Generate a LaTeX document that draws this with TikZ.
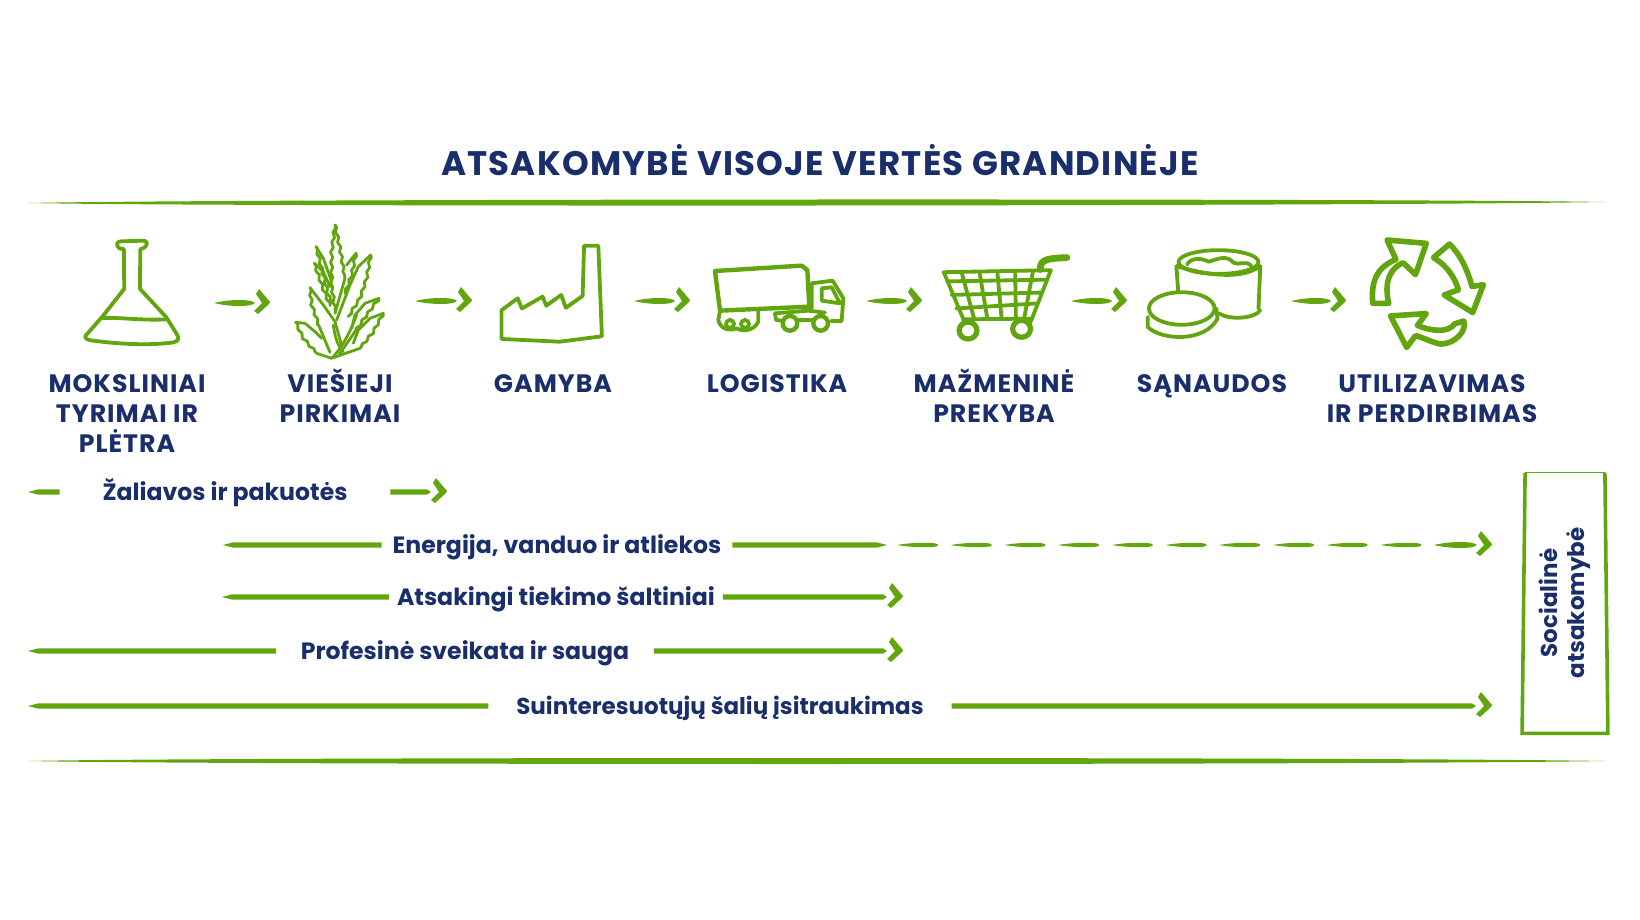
\documentclass[tikz,border=0pt]{standalone}
\usepackage{fontspec}
\setmainfont{Poppins}
\usetikzlibrary{calc,decorations.pathmorphing}
\definecolor{leaf}{HTML}{62A60F}
\definecolor{navy}{HTML}{1A2E6C}
\tikzset{
  sketch/.style={draw=leaf, line width=1.9pt, line cap=round, line join=round},
  fine/.style={draw=leaf, line width=1.4pt, line cap=round, line join=round},
  spiky/.style={fine, decorate, decoration={zigzag, amplitude=.55pt, segment length=5pt}},
  boxline/.style={draw=leaf, line width=1.8pt},
  brushrule/.style={to path={(\tikztostart)
    .. controls ($(\tikztostart)!.12!(\tikztotarget)+(0,-4)$) and ($(\tikztostart)!.85!(\tikztotarget)+(0,-4)$) .. (\tikztotarget)
    .. controls ($(\tikztostart)!.85!(\tikztotarget)+(0,4)$) and ($(\tikztostart)!.12!(\tikztotarget)+(0,4)$) .. (\tikztostart) -- cycle}},
  brush/.style={to path={(\tikztostart)
    .. controls ($(\tikztostart)!.4!(\tikztotarget)+(0,-#1)$) and ($(\tikztostart)!1.05!(\tikztotarget)+(0,-#1)$) .. (\tikztotarget)
    .. controls ($(\tikztostart)!1.05!(\tikztotarget)+(0,#1)$) and ($(\tikztostart)!.4!(\tikztotarget)+(0,#1)$) .. (\tikztostart) -- cycle}},
  steparrow/.style={to path={(\tikztostart)
    .. controls ($(\tikztostart)+(16,-4)$) and ($(\tikztotarget)+(-18,-4)$) .. ($(\tikztotarget)+(-15,0)$)
    .. controls ($(\tikztotarget)+(-18,4)$) and ($(\tikztostart)+(16,4)$) .. (\tikztostart) -- cycle
    ($(\tikztotarget)+(-11,-14)$) -- ($(\tikztotarget)+(0,-1)$) -- ($(\tikztotarget)+(-1,1)$) -- ($(\tikztotarget)+(-12,11)$) -- ($(\tikztotarget)+(-16,8)$) -- ($(\tikztotarget)+(-8,0)$) -- ($(\tikztotarget)+(-14,-9)$) -- cycle}},
  rowtail/.style={to path={(\tikztostart) -- ($(\tikztostart)!5pt!(\tikztotarget)+(0,-2.6)$) -- ($(\tikztotarget)+(0,-2.6)$)
    -- ($(\tikztotarget)+(0,2.6)$) -- ($(\tikztostart)!5pt!(\tikztotarget)+(0,2.6)$) -- cycle}},
  rowhead/.style={to path={($(\tikztostart)+(0,-2.6)$) -- ($(\tikztotarget)+(-20,-2.6)$) -- ($(\tikztotarget)+(-16,0)$)
    -- ($(\tikztotarget)+(-20,2.6)$) -- ($(\tikztostart)+(0,2.6)$) -- cycle
    ($(\tikztotarget)+(-11,-14)$) -- ($(\tikztotarget)+(0,-1)$) -- ($(\tikztotarget)+(-1,1)$) -- ($(\tikztotarget)+(-12,11)$) -- ($(\tikztotarget)+(-16,8)$) -- ($(\tikztotarget)+(-8,0)$) -- ($(\tikztotarget)+(-14,-9)$) -- cycle}},
  steplabel/.style={anchor=base, align=center,
    font=\bfseries\fontsize{12.6}{15}\selectfont\addfontfeature{LetterSpace=4}},
  rowlabel/.style={font=\bfseries\fontsize{11.8}{14}\selectfont, text height=10pt, text depth=2pt, inner xsep=0pt}
}
\begin{document}
\begin{tikzpicture}[x=.5pt, y=-.5pt,
  every node/.style={text=navy, inner sep=0pt}]
\useasboundingbox (0,0) rectangle (1640,920);
\node[font=\bfseries\fontsize{17}{20}\selectfont\addfontfeature{LetterSpace=3.7}] (title) at (820,160) {ATSAKOMYBĖ VISOJE VERTĖS GRANDINĖJE};
\coordinate (topL) at (28,203);
\coordinate (topR) at (1605,202);
\coordinate (botL) at (28,761);
\coordinate (botR) at (1605,761);
\fill[leaf] (topL) to[brushrule] (topR);
\fill[leaf] (botL) to[brushrule] (botR);

\begin{scope}[shift={(0,200)}, xscale=.357, yscale=.339]
\draw[sketch] (347,145) .. controls (330,148) and (318,125) .. (338,122) -- (400,120) .. controls (418,120) and (415,140) .. (393,145)
  -- (392,262) -- (465,345) -- (495,395) .. controls (500,405) and (505,415) .. (485,420)
  .. controls (420,430) and (330,425) .. (255,414) .. controls (245,412) and (235,408) .. (240,400) -- (290,340) -- (348,262) -- cycle;
\draw[sketch] (288,348) .. controls (340,346) and (400,356) .. (465,352);
\draw[sketch] (1405,410) -- (1405,325) -- (1450,290) -- (1462,320) -- (1520,285) -- (1530,312) -- (1572,280) -- (1585,318) -- (1632,283) -- (1636,135) -- (1676,135) -- (1686,402) -- (1568,418) -- cycle;
\end{scope}

\begin{scope}[shift={(280,215)}, scale=.3333]
\draw[spiky] (165,30) -- (155,110) -- (155,210) -- (165,285);
\draw[spiky] (165,30) -- (180,100) -- (195,190);
\draw[fine] (195,190) -- (165,295);
\draw[spiky] (108,95) -- (125,160) -- (145,240) -- (155,265);
\draw[fine] (108,95) -- (130,130) -- (155,200);
\draw[spiky] (103,145) -- (125,210) -- (150,272);
\draw[fine] (103,145) -- (130,170) -- (150,215);
\draw[spiky] (228,115) -- (215,180) -- (195,235);
\draw[fine] (228,115) -- (200,150);
\draw[spiky] (272,120) -- (260,190) -- (240,250) -- (205,305);
\draw[fine] (272,120) -- (235,155) -- (210,210) -- (170,315);
\draw[spiky] (90,218) -- (95,270) -- (120,340);
\draw[fine] (120,340) -- (150,412);
\draw[fine] (90,218) -- (130,270) -- (165,320) -- (185,392);
\draw[spiky] (297,250) -- (260,300) -- (225,350);
\draw[fine] (225,350) -- (178,418);
\draw[fine] (297,250) -- (255,265) -- (225,300) -- (215,340);
\draw[spiky] (310,295) -- (280,350) -- (240,400);
\draw[fine] (240,400) -- (160,428);
\draw[fine] (310,295) -- (270,310) -- (235,345) -- (220,385);
\draw[spiky] (47,322) -- (70,370) -- (110,415);
\draw[fine] (110,415) -- (155,430);
\draw[fine] (47,322) -- (75,325) -- (105,350) -- (125,370);
\draw[fine] (155,430) .. controls (190,395) and (215,340) .. (230,300);
\draw[fine] (160,330) .. controls (165,370) and (175,395) .. (190,410);
\end{scope}

\begin{scope}[shift={(700,250)}, scale=.3333]
\draw[sketch, line width=2.2pt] (45,63) -- (305,47) -- (322,60) -- (328,170) -- (60,182) -- cycle;
\draw[sketch] (60,182) -- (55,210) .. controls (60,235) and (85,245) .. (110,235) .. controls (125,245) and (160,245) .. (175,215) -- (175,185);
\draw[sketch] (90,222) circle (12) (135,222) circle (12);
\draw[sketch] (335,175) -- (335,100) -- (398,92) -- (430,145) -- (425,213) -- (393,213);
\draw[sketch] (365,115) -- (395,112) -- (420,160) -- (365,152) -- cycle;
\draw[sketch] (225,190) -- (325,182) -- (375,188);
\draw[sketch] (225,190) -- (228,210) -- (245,212);
\draw[sketch] (295,210) -- (340,210);
\draw[sketch, line width=2.2pt] (270,220) circle (22) (362,220) circle (22);
\end{scope}

\begin{scope}[shift={(560,200)}, xscale=.357, yscale=.339]
\draw[sketch, line width=3.4pt] (1345,205) .. controls (1345,175) and (1365,172) .. (1420,170);
\draw[sketch] (1075,213) -- (1375,207) -- (1322,350) -- (1130,352) -- cycle;
\draw[sketch] (1125,213) -- (1160,350) (1175,212) -- (1197,350) (1225,211) -- (1237,350) (1275,210) -- (1277,350) (1325,209) -- (1300,350);
\draw[sketch] (1085,240) -- (1365,235) (1097,280) -- (1350,273) (1110,320) -- (1337,305);
\draw[sketch] (1130,352) -- (1130,365) (1322,350) -- (1315,365);
\draw[sketch, line width=2.6pt] (1143,385) circle (25) (1293,380) circle (25);
\end{scope}

\begin{scope}[shift={(1080,200)}, xscale=.357, yscale=.339]
\draw[sketch] (388,183) ellipse (112 and 35);
\draw[sketch] (300,190) .. controls (310,170) and (340,170) .. (360,182) .. controls (385,175) and (410,160) .. (430,185) .. controls (445,195) and (465,175) .. (480,195);
\draw[sketch] (270,195) .. controls (320,210) and (440,245) .. (505,195);
\draw[sketch] (270,195) -- (275,270) (505,195) -- (500,320);
\draw[sketch] (390,335) .. controls (420,355) and (490,350) .. (505,325);
\draw[sketch] (285,320) ellipse (92 and 48);
\draw[sketch] (190,345) -- (190,375) .. controls (230,415) and (350,420) .. (385,350) -- (382,320);
\draw[sketch, line width=2.8pt] (820,305) .. controls (815,240) and (830,200) .. (885,175) -- (860,118) -- (970,128) -- (940,220) -- (905,185) .. controls (870,200) and (850,240) .. (865,305) -- cycle;
\draw[sketch, line width=2.8pt] (990,170) -- (1035,130) .. controls (1065,160) and (1085,205) .. (1098,255) -- (1130,250) -- (1100,332) -- (1020,280) -- (1060,265) .. controls (1050,230) and (1030,195) .. cycle;
\draw[sketch, line width=2.8pt] (1075,357) .. controls (1085,385) and (1050,425) .. (1010,425) .. controls (985,420) and (960,405) .. (940,400) -- (915,435) -- (870,342) -- (970,335) -- (945,370) .. controls (980,385) and (1030,395) .. (1050,365) -- cycle;
\end{scope}

\coordinate (flaskR) at (214,303);
\coordinate (aloeL) at (270,303);
\coordinate (aloeR) at (415,301);
\coordinate (factoryL) at (472,301);
\coordinate (factoryR) at (634,301);
\coordinate (truckL) at (690,301);
\coordinate (truckR) at (866,301);
\coordinate (cartL) at (922,301);
\coordinate (cartR) at (1071,301);
\coordinate (creamL) at (1127,301);
\coordinate (creamR) at (1291,301);
\coordinate (recycleL) at (1346,301);
\fill[leaf] (flaskR) to[steparrow] (aloeL);
\fill[leaf] (aloeR) to[steparrow] (factoryL);
\fill[leaf] (factoryR) to[steparrow] (truckL);
\fill[leaf] (truckR) to[steparrow] (cartL);
\fill[leaf] (cartR) to[steparrow] (creamL);
\fill[leaf] (creamR) to[steparrow] (recycleL);

\node[steplabel] (research) at (127,452) {MOKSLINIAI\\TYRIMAI IR\\PLĖTRA};
\node[steplabel] (purchase) at (340,422) {VIEŠIEJI\\PIRKIMAI};
\node[steplabel] (making) at (553,392) {GAMYBA};
\node[steplabel] (logistics) at (777,392) {LOGISTIKA};
\node[steplabel] (retail) at (994,422) {MAŽMENINĖ\\PREKYBA};
\node[steplabel] (usage) at (1212,392) {SĄNAUDOS};
\node[steplabel] (disposal) at (1432,422) {UTILIZAVIMAS\\IR PERDIRBIMAS};

\node[rowlabel, outer xsep=21.5pt] (materials) at (225,492) {Žaliavos ir pakuotės};
\node[rowlabel, outer xsep=5.5pt] (energy) at (557,545) {Energija, vanduo ir atliekos};
\node[rowlabel, outer xsep=4pt] (sourcing) at (556,597) {Atsakingi tiekimo šaltiniai};
\node[rowlabel, outer xsep=12.3pt] (safety) at (465,651) {Profesinė sveikata ir sauga};
\node[rowlabel, outer xsep=14pt, font=\bfseries\fontsize{11.5}{14}\selectfont] (stakeholders) at (720,706) {Suinteresuotųjų šalių įsitraukimas};

\coordinate (materialsL) at (28,492);
\coordinate (materialsR) at (447,492);
\coordinate (energyL) at (223,545);
\coordinate (energyM) at (887,545);
\coordinate (energyD) at (1434,545);
\coordinate (energyR) at (1492,545);
\coordinate (sourcingL) at (222,597);
\coordinate (sourcingR) at (903,597);
\coordinate (safetyL) at (28,651);
\coordinate (safetyR) at (903,651);
\coordinate (stakeholdersL) at (28,706);
\coordinate (stakeholdersR) at (1492,706);
\fill[leaf] (materialsL) to[rowtail] (materialsL -| materials.west);
\fill[leaf] (materialsL -| materials.east) to[rowhead] (materialsR);
\fill[leaf] (energyL) to[rowtail] (energyL -| energy.west);
\fill[leaf] (energyM) to[rowtail] (energyL -| energy.east);
\foreach \dashx in {897,950.7,...,1381}
  \fill[leaf] (\dashx,545) to[brush=3] ({\dashx+41},545);
\fill[leaf] (energyD) to[steparrow] (energyR);
\fill[leaf] (sourcingL) to[rowtail] (sourcingL -| sourcing.west);
\fill[leaf] (sourcingL -| sourcing.east) to[rowhead] (sourcingR);
\fill[leaf] (safetyL) to[rowtail] (safetyL -| safety.west);
\fill[leaf] (safetyL -| safety.east) to[rowhead] (safetyR);
\fill[leaf] (stakeholdersL) to[rowtail] (stakeholdersL -| stakeholders.west);
\fill[leaf] (stakeholdersL -| stakeholders.east) to[rowhead] (stakeholdersR);

\node[rotate=90, minimum width=130pt, minimum height=42.5pt, align=center, font=\bfseries\fontsize{11.5}{13.5}\selectfont] (social) at (1565,603) {Socialinė\\atsakomybė};
\draw[boxline] ([xshift=1.5pt]social.north east) -- (social.north west) -- (social.south west) -- ([xshift=-1.5pt]social.south east);
\draw[draw=leaf, line width=.6pt] ([xshift=1.5pt]social.north east) -- ([xshift=-1.5pt]social.south east);
\end{tikzpicture}
\end{document}
